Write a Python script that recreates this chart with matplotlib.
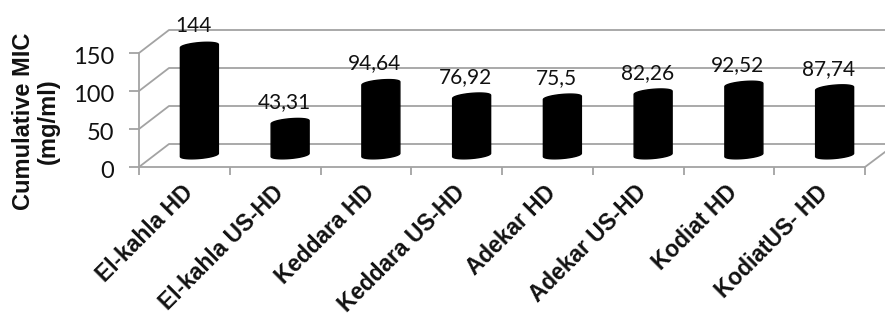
import numpy as np
import matplotlib
matplotlib.use("Agg")
import matplotlib.pyplot as plt
from matplotlib.transforms import ScaledTranslation

categories = ["El-kahla HD", "El-kahla US-HD", "Keddara HD", "Keddara US-HD",
              "Adekar HD", "Adekar US-HD", "Kodiat HD", "KodiatUS- HD"]
values = [144, 43.31, 94.64, 76.92, 75.5, 82.26, 92.52, 87.74]
value_labels = ["144", "43,31", "94,64", "76,92", "75,5", "82,26", "92,52", "87,74"]
y_ticks = [0, 50, 100, 150]

W, H = 885, 320
x0, x1 = 139, 865      # front floor edge, pixels
y_zero, y_top = 167, 53

fig = plt.figure(figsize=(W / 100, H / 100), dpi=100)
ax = fig.add_axes([x0 / W, 1 - y_zero / H, (x1 - x0) / W, (y_zero - y_top) / H])
ax.set_xlim(0, len(categories))
ax.set_ylim(0, 150)

# pixel sizes to data units
px_x = len(categories) / (x1 - x0)
px_y = 150 / (y_zero - y_top)
grid_col = "#a3a3a3"

# back wall and side wall
depth_x = 30 * px_x
depth_y = 23 * px_y
for t in y_ticks:
    ax.plot([0, depth_x, 8 + 30 * px_x], [t, t + depth_y, t + depth_y],
            color=grid_col, lw=1.3, clip_on=False, zorder=1)
ax.plot([8, 8 + 20 * px_x], [0, 15 * px_y], color=grid_col, lw=1.3, clip_on=False, zorder=1)

# cylinders
t = np.linspace(0, np.pi, 40)
a, b, s = 19 * px_x, 3.5 * px_y, 1.6 * px_y
base = 12 * px_y
for i, v in enumerate(values):
    cx = i + 0.5 + 15 * px_x
    top = base + v * 0.995
    xs = np.concatenate([cx + a * np.cos(t), cx - a * np.cos(t)])
    ys = np.concatenate([top + b * np.sin(t) + s * np.cos(t),
                         base - b * np.sin(t) - s * np.cos(t)])
    ax.fill(xs, ys, color="black", clip_on=False, zorder=3)
    ax.text(cx - 6 * px_x, top + 20 * px_y, value_labels[i], ha="center", va="center",
            family="Lato", fontsize=15, color="#111111", clip_on=False, zorder=4)

for side in ["top", "right"]:
    ax.spines[side].set_visible(False)
for side in ["left", "bottom"]:
    ax.spines[side].set_color(grid_col)
    ax.spines[side].set_linewidth(1.3)

ax.set_yticks(y_ticks)
ax.set_yticklabels([str(v) for v in y_ticks], family="Lato", fontsize=17, color="#111111")
ax.tick_params(axis="y", length=7, color=grid_col, width=1.3, pad=11)
# labels sit a little below their ticks
for lab in ax.get_yticklabels():
    lab.set_transform(lab.get_transform() + ScaledTranslation(0, -3 / 100, fig.dpi_scale_trans))

ax.set_xticks(np.arange(len(categories) + 1))
ax.set_xticklabels([])
ax.tick_params(axis="x", length=6, color=grid_col, width=1.3)

# rotated category labels
for i, c in enumerate(categories):
    ax.annotate(c, (i + 0.5, 0), xytext=(-2, -10), textcoords="offset points",
                rotation=45, rotation_mode="anchor", ha="right", va="top",
                family="Liberation Sans", fontweight="bold", fontsize=16.4, color="#111111")

fig.text(36 / W, 1 - 121 / H, "Cumulative MIC\n(mg/ml)", rotation=90, ha="center", va="center",
         family="Liberation Sans", fontweight="bold", fontsize=17, color="#111111",
         linespacing=1.12)

fig.savefig("out.png", dpi=100)
